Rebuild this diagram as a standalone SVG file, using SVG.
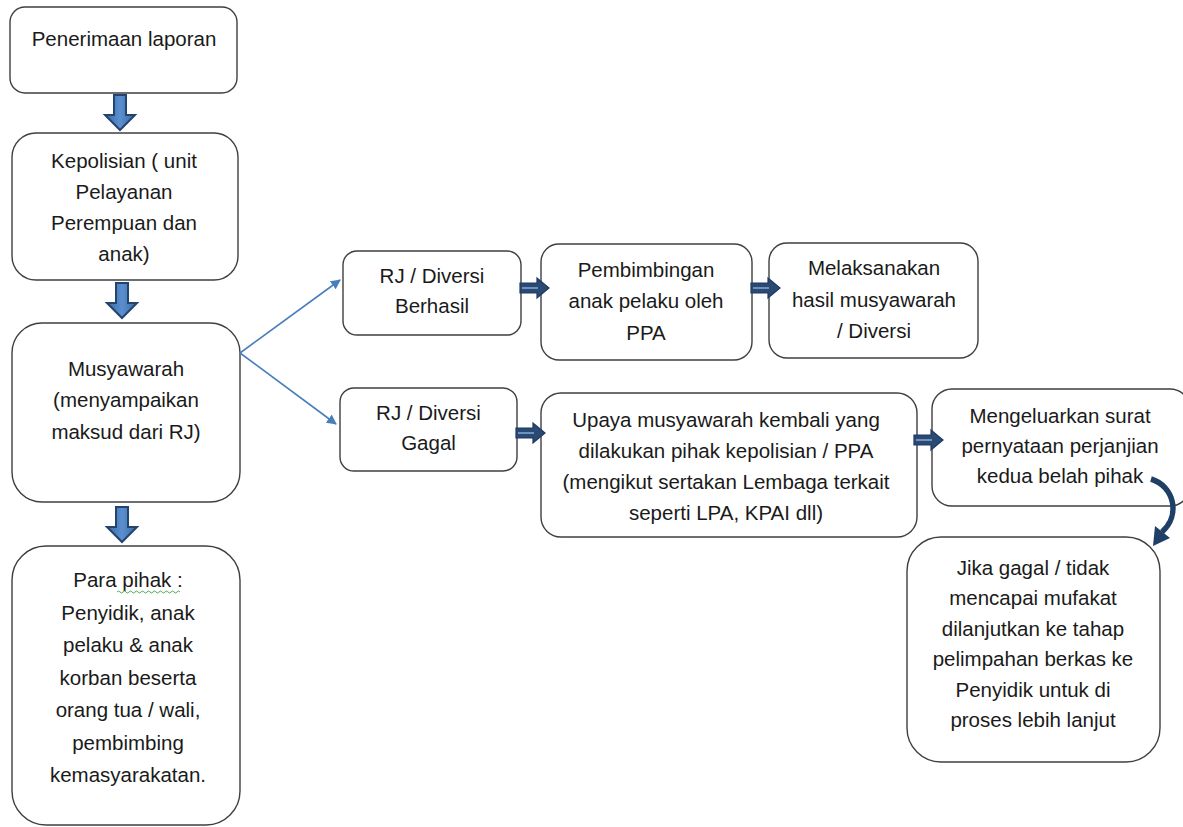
<svg xmlns="http://www.w3.org/2000/svg" width="1183" height="827" viewBox="0 0 1183 827">
<style>
.box{fill:#fff;stroke:#3f3f3f;stroke-width:1.4}
.t{font-family:"Liberation Sans",Arial,sans-serif;font-size:20.5px;fill:#1a1a1a;text-anchor:middle}
.thin{stroke:#4a7ebb;stroke-width:1.6;fill:none}
.rarr{fill:#2a4a73;stroke:#1f3864;stroke-width:1.2}
.rin{stroke:#8fb0d8;stroke-width:1.4}
.darr{fill:url(#g);stroke:#24446e;stroke-width:2}
</style>
<defs>
<linearGradient id="g" x1="0" y1="0" x2="1" y2="0">
<stop offset="0" stop-color="#3a68a3"/>
<stop offset="0.5" stop-color="#5b8fd0"/>
<stop offset="1" stop-color="#3a68a3"/>
</linearGradient>
<marker id="ah" markerWidth="10" markerHeight="10" refX="9" refY="5" orient="auto" markerUnits="userSpaceOnUse" viewBox="0 0 10 10">
<path d="M0,0 L10,5 L0,10 z" fill="#4a7ebb"/>
</marker>
<polygon id="ra" points="0,-5 17,-5 17,-10 29,0 17,10 17,5 0,5"/>
<polygon id="da" points="-6,0 6,0 6,20 15,20 0,35 -15,20 -6,20"/>
</defs>

<g id="n1">
<rect class="box" x="10" y="7" width="227" height="86" rx="15"/>
<text class="t" x="124" y="46">Penerimaan laporan</text>
</g>
<g id="n2">
<rect class="box" x="12" y="133" width="226" height="147" rx="24"/>
<text class="t" x="124" y="168">Kepolisian ( unit</text>
<text class="t" x="124" y="199">Pelayanan</text>
<text class="t" x="124" y="230">Perempuan dan</text>
<text class="t" x="124" y="261">anak)</text>
</g>
<g id="n3">
<rect class="box" x="12" y="323" width="228" height="179" rx="30"/>
<text class="t" x="126" y="376">Musyawarah</text>
<text class="t" x="126" y="407">(menyampaikan</text>
<text class="t" x="126" y="439">maksud dari RJ)</text>
</g>
<g id="n4">
<rect class="box" x="12" y="546" width="228" height="279" rx="34"/>
<text class="t" x="128" y="587">Para pihak :</text>
<path d="M117,592 q1.5,-2 3,0 t3,0 t3,0 t3,0 t3,0 t3,0 t3,0 t3,0 t3,0 t3,0 t3,0 t3,0 t3,0 t3,0 t3,0 t3,0 t3,0 t3,0 t3,0 t3,0 t3,0" fill="none" stroke="#3aa040" stroke-width="0.9"/>
<text class="t" x="128" y="620">Penyidik, anak</text>
<text class="t" x="128" y="652">pelaku &amp; anak</text>
<text class="t" x="128" y="685">korban beserta</text>
<text class="t" x="128" y="717">orang tua / wali,</text>
<text class="t" x="128" y="750">pembimbing</text>
<text class="t" x="128" y="782">kemasyarakatan.</text>
</g>
<g id="n5">
<rect class="box" x="343" y="251" width="178" height="84" rx="14"/>
<text class="t" x="432" y="283">RJ / Diversi</text>
<text class="t" x="432" y="313">Berhasil</text>
</g>
<g id="n6">
<rect class="box" x="340" y="388" width="177" height="83" rx="14"/>
<text class="t" x="428.5" y="420">RJ / Diversi</text>
<text class="t" x="428.5" y="450">Gagal</text>
</g>
<g id="n7">
<rect class="box" x="541" y="244" width="211" height="116" rx="18"/>
<text class="t" x="646" y="277">Pembimbingan</text>
<text class="t" x="646" y="308">anak pelaku oleh</text>
<text class="t" x="646" y="340">PPA</text>
</g>
<g id="n8">
<rect class="box" x="769" y="243" width="209" height="115" rx="18"/>
<text class="t" x="874" y="275">Melaksanakan</text>
<text class="t" x="874" y="307">hasil musyawarah</text>
<text class="t" x="874" y="338">/ Diversi</text>
</g>
<g id="n9">
<rect class="box" x="541" y="393" width="376" height="144" rx="20"/>
<text class="t" x="726" y="427">Upaya musyawarah kembali yang</text>
<text class="t" x="726" y="458">dilakukan pihak kepolisian / PPA</text>
<text class="t" x="726" y="489">(mengikut sertakan Lembaga terkait</text>
<text class="t" x="726" y="520">seperti LPA, KPAI dll)</text>
</g>
<g id="n10">
<rect class="box" x="932" y="389" width="258" height="117" rx="20"/>
<text class="t" x="1060" y="423">Mengeluarkan surat</text>
<text class="t" x="1060" y="453">pernyataan perjanjian</text>
<text class="t" x="1060" y="483">kedua belah pihak</text>
</g>
<g id="n11">
<rect class="box" x="907" y="537" width="253" height="225" rx="34"/>
<text class="t" x="1033" y="575">Jika gagal / tidak</text>
<text class="t" x="1033" y="605">mencapai mufakat</text>
<text class="t" x="1033" y="636">dilanjutkan ke tahap</text>
<text class="t" x="1033" y="666">pelimpahan berkas ke</text>
<text class="t" x="1033" y="697">Penyidik untuk di</text>
<text class="t" x="1033" y="727">proses lebih lanjut</text>
</g>

<g id="connectors">
<use href="#da" class="darr" transform="translate(120,95)"/>
<use href="#da" class="darr" transform="translate(122,283)"/>
<use href="#da" class="darr" transform="translate(122,507)"/>
<line class="thin" x1="240" y1="353" x2="340" y2="280" marker-end="url(#ah)"/>
<line class="thin" x1="240" y1="353" x2="336" y2="424" marker-end="url(#ah)"/>
<g transform="translate(520,288)"><use href="#ra" class="rarr"/><line class="rin" x1="2" y1="0" x2="18" y2="0"/></g>
<g transform="translate(751,288)"><use href="#ra" class="rarr"/><line class="rin" x1="2" y1="0" x2="18" y2="0"/></g>
<g transform="translate(516,433)"><use href="#ra" class="rarr"/><line class="rin" x1="2" y1="0" x2="18" y2="0"/></g>
<g transform="translate(914,440)"><use href="#ra" class="rarr"/><line class="rin" x1="2" y1="0" x2="18" y2="0"/></g>
<path d="M1151,479 C1174,486 1181,515 1162,532" fill="none" stroke="#1f3f66" stroke-width="5.5"/>
<polygon points="1153,546 1155,526 1170,538" fill="#1f3f66"/>
</g>
</svg>
